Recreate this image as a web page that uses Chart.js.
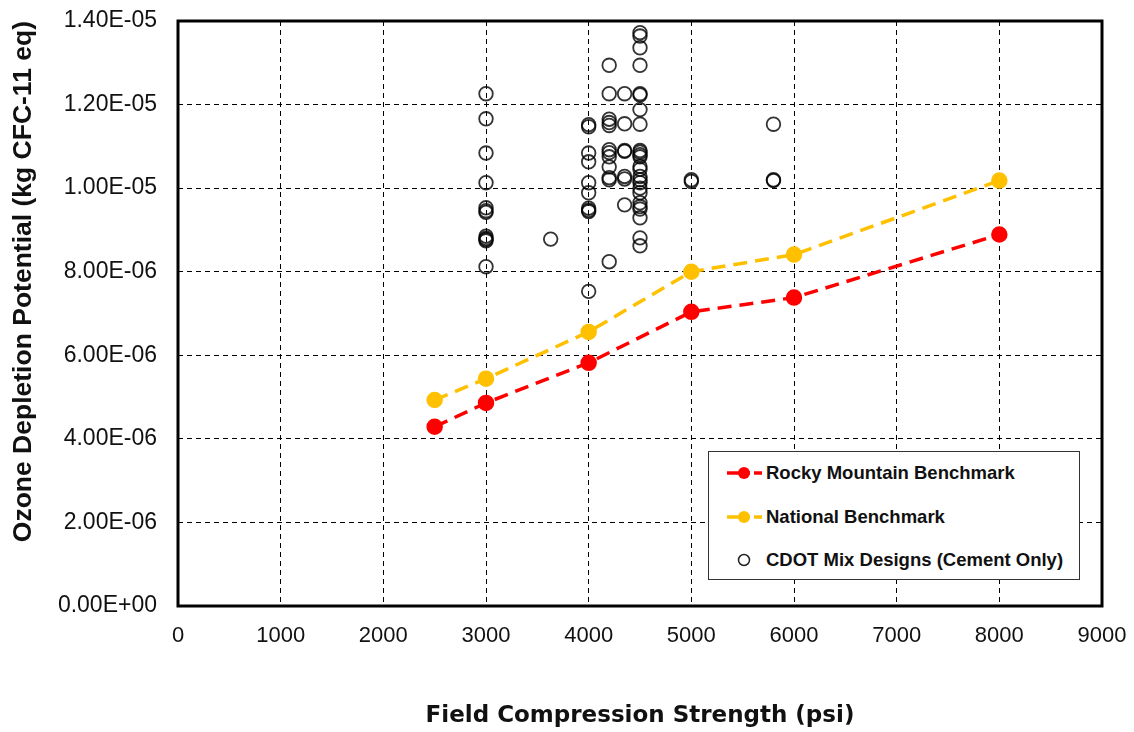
<!DOCTYPE html>
<html>
<head>
<meta charset="utf-8">
<script src="https://cdn.jsdelivr.net/npm/chart.js@4.4.1/dist/chart.umd.min.js"></script>
<style>
    body { margin: 0; background: #fff; font-family: "Liberation Sans", Arial, sans-serif; }
    #wrap { position: relative; width: 1134px; height: 732px; }
    #legend {
        position: absolute; left: 708px; top: 451px; width: 370px; height: 127px;
        border: 1.5px solid #333; background: #fff;
    }
    .item { position: absolute; left: 0; height: 24px; display: flex; align-items: center; }
    .item svg { margin-left: 16px; }
    .item span { margin-left: 3px; font: bold 18.5px "Liberation Sans", Arial, sans-serif; color: #111; }
</style>
</head>
<body>
<div id="wrap">
    <canvas id="odp-chart" width="1134" height="732"></canvas>
    <div id="legend">
        <div class="item" style="top:9px">
            <svg width="38" height="24"><line x1="2" y1="12" x2="37" y2="12" stroke="#ff0000" stroke-width="3.5" stroke-dasharray="23,4,8"/><circle cx="19" cy="12" r="6" fill="#ff0000"/></svg>
            <span>Rocky Mountain Benchmark</span>
        </div>
        <div class="item" style="top:53px">
            <svg width="38" height="24"><line x1="2" y1="12" x2="37" y2="12" stroke="#ffc000" stroke-width="3.5" stroke-dasharray="23,4,8"/><circle cx="19" cy="12" r="6" fill="#ffc000"/></svg>
            <span>National Benchmark</span>
        </div>
        <div class="item" style="top:96px">
            <svg width="38" height="24"><circle cx="19" cy="12" r="5.5" fill="none" stroke="#222" stroke-width="1.5"/></svg>
            <span>CDOT Mix Designs (Cement Only)</span>
        </div>
    </div>
</div>
<script>
// benchmark curves
const benchStrength = [2500, 3000, 4000, 5000, 6000, 8000];
const rockyMountain = [4.29e-6, 4.86e-6, 5.82e-6, 7.04e-6, 7.38e-6, 8.89e-6];
const national = [4.93e-6, 5.44e-6, 6.56e-6, 8.00e-6, 8.41e-6, 1.018e-5];

// CDOT mixes, grouped by specified strength
const mixStrengths = [3000, 3630, 4000, 4200, 4350, 4500, 5000, 5800];
const mixOdp = [
    [1.226e-5, 1.166e-5, 1.084e-5, 1.013e-5, 9.53e-6, 9.46e-6, 9.42e-6, 8.85e-6, 8.80e-6, 8.77e-6, 8.74e-6, 8.12e-6],
    [8.78e-6],
    [1.152e-5, 1.147e-5, 1.084e-5, 1.063e-5, 1.013e-5, 9.89e-6, 9.52e-6, 9.47e-6, 9.44e-6, 7.53e-6],
    [1.294e-5, 1.226e-5, 1.165e-5, 1.157e-5, 1.150e-5, 1.092e-5, 1.085e-5, 1.075e-5, 1.051e-5, 1.025e-5, 1.020e-5, 8.24e-6],
    [1.226e-5, 1.154e-5, 1.090e-5, 1.088e-5, 1.028e-5, 1.022e-5, 9.60e-6],
    [1.372e-5, 1.364e-5, 1.336e-5, 1.294e-5, 1.226e-5, 1.223e-5, 1.188e-5, 1.153e-5, 1.090e-5, 1.086e-5, 1.080e-5, 1.075e-5,
        1.052e-5, 1.045e-5, 1.028e-5, 1.020e-5, 1.013e-5, 1.000e-5, 9.89e-6, 9.65e-6, 9.56e-6, 9.50e-6, 9.29e-6, 8.81e-6, 8.62e-6],
    [1.020e-5, 1.016e-5],
    [1.153e-5, 1.020e-5, 1.018e-5]
];

const xTicks = [0, 1000, 2000, 3000, 4000, 5000, 6000, 7000, 8000, 9000];

const toPoints = (xs, ys) => xs.map((x, i) => ({x: x, y: ys[i]}));
const mixPoints = [];
mixStrengths.forEach((s, i) => mixOdp[i].forEach(v => mixPoints.push({x: s, y: v})));

// 1.40E-05 style labels
function sciLabel(value) {
    let [m, e] = Number(value).toExponential(2).toUpperCase().split('E');
    let sign = e[0] === '-' ? '-' : '+';
    let digits = e.replace(/[+-]/, '').padStart(2, '0');
    return m + 'E' + sign + digits;
}

// thick frame round the plot area
const frame = {
    id: 'frame',
    afterDraw(chart) {
        const {ctx, chartArea: a} = chart;
        ctx.save();
        ctx.strokeStyle = '#000';
        ctx.lineWidth = 3;
        ctx.strokeRect(a.left, a.top, a.right - a.left, a.bottom - a.top);
        ctx.restore();
    }
};

const grid = {color: '#000', lineWidth: 1, drawTicks: false};
const dashed = {display: false, dash: [5, 4]};

new Chart(document.querySelector('#odp-chart'), {
    type: 'scatter',
    data: {
        datasets: [
            {
                label: 'Rocky Mountain Benchmark',
                data: toPoints(benchStrength, rockyMountain),
                showLine: true,
                borderColor: '#ff0000',
                backgroundColor: '#ff0000',
                borderWidth: 3.5,
                borderDash: [14, 8],
                pointRadius: 6.5,
                order: 2
            },
            {
                label: 'National Benchmark',
                data: toPoints(benchStrength, national),
                showLine: true,
                borderColor: '#ffc000',
                backgroundColor: '#ffc000',
                borderWidth: 3.5,
                borderDash: [14, 8],
                pointRadius: 6.5,
                order: 3
            },
            {
                label: 'CDOT Mix Designs (Cement Only)',
                data: mixPoints,
                borderColor: 'rgba(0,0,0,0.8)',
                backgroundColor: 'rgba(0,0,0,0)',
                borderWidth: 1.8,
                pointRadius: 6.8,
                order: 1
            }
        ]
    },
    options: {
        responsive: false,
        animation: false,
        layout: {padding: {left: 0, top: 21, right: 32, bottom: 0}},
        plugins: {legend: {display: false}, tooltip: {enabled: false}},
        scales: {
            x: {
                type: 'linear',
                min: 0, max: 9000,
                afterFit: s => { s.height = 126; s.paddingLeft = 0; s.paddingRight = 0; },
                afterBuildTicks: s => { s.ticks = xTicks.map(v => ({value: v})); },
                grid: grid,
                border: dashed,
                ticks: {color: '#111', padding: 17, maxRotation: 0, callback: v => String(v),
                    font: {family: '"Liberation Sans", Arial', size: 22}},
                title: {display: true, text: 'Field Compression Strength (psi)', color: '#111',
                    padding: {top: 0, bottom: 2},
                    font: {family: '"DejaVu Sans"', size: 23, weight: 'bold'}}
            },
            y: {
                min: 0, max: 1.4e-5,
                afterFit: s => { s.width = 178; s.paddingTop = 0; s.paddingBottom = 0; },
                grid: grid,
                border: dashed,
                ticks: {stepSize: 2e-6, color: '#111', padding: 21, callback: sciLabel,
                    font: {family: '"Liberation Sans", Arial', size: 23}},
                title: {display: true, text: 'Ozone Depletion Potential (kg CFC-11 eq)', color: '#111',
                    align: 'end',
                    padding: {top: 8, bottom: 0},
                    font: {family: '"Liberation Sans", Arial', size: 26.5, weight: 'bold'}}
            }
        }
    },
    plugins: [frame]
});
</script>
</body>
</html>
